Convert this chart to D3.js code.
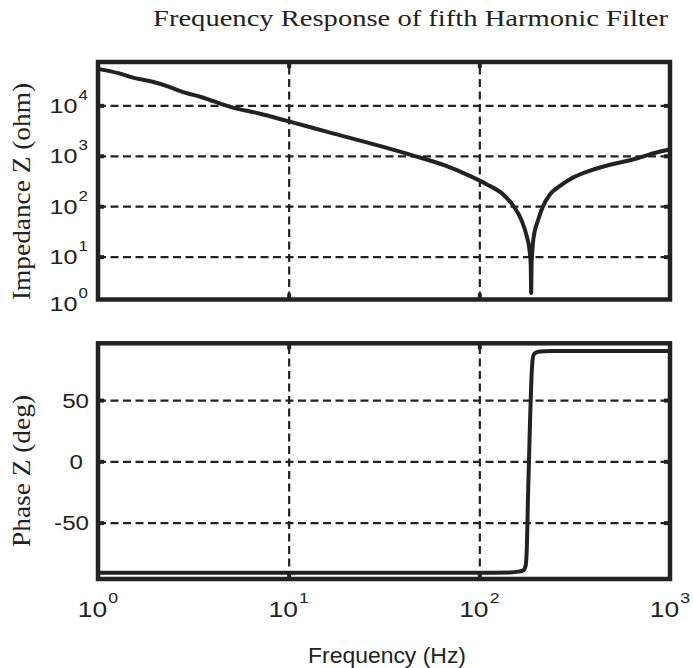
<!DOCTYPE html>
<html><head><meta charset="utf-8">
<script src="https://cdn.jsdelivr.net/npm/d3@7"></script>
<style>body{margin:0;background:#fff}</style>
</head><body><svg id="c" width="693" height="668"></svg>
<script>
// ---- data ----
const freqZ = [1, 1.28, 1.56, 1.91, 2.34, 2.75, 3.5, 5.1, 7, 9.8, 16.5, 30, 45, 67, 89, 109, 133, 151, 167, 177, 183, 186, 187, 188, 190, 192, 204, 215, 235, 265, 299, 365, 447, 546, 668, 785, 900, 1000];
const impedance = [53000, 43500, 34700, 29700, 23600, 18800, 14500, 9040, 6900, 4920, 2880, 1570, 1010, 630, 400, 274, 173, 101, 51, 26, 14, 7, 1.9, 7, 14, 22, 55, 97, 173, 253, 343, 479, 614, 736, 883, 1070, 1230, 1330];
const freqP = [1, 100, 145, 160, 170, 175, 177, 180.6, 184.6, 188.6, 192.6, 200, 209, 235, 1000];
const phase = [-91, -91, -90.6, -90, -89, -85, -75, -20, 34, 75, 87, 89, 89.7, 90, 90];
const xTicks = [1, 10, 100, 1000];
const zTicks = [1, 10, 100, 1000, 10000];
const pTicks = [-50, 0, 50];
const titleText = "Frequency Response of fifth Harmonic Filter";
const xLabel = "Frequency (Hz)";
const zLabel = "Impedance Z (ohm)";
const pLabel = "Phase Z (deg)";

const ink = "#222";
const svg = d3.select("#c");
const X0 = 98, X1 = 670;
const ZT = 62, ZB = 299.5, PT = 343.3, PB = 579;

const x = d3.scaleLog().domain([1, 1000]).range([X0, X1]);
const yZ = d3.scaleLog().domain([Math.pow(10, 0.15), Math.pow(10, 4.86)]).range([ZB, ZT]);
const yP = d3.scaleLinear().domain([-96, 96.3]).range([PB, PT]);

function grid(top, bottom, yScale, yGrid) {
  const g = svg.append("g");
  g.append("g").attr("transform", `translate(${X0},0)`)
    .call(d3.axisLeft(yScale).tickValues(yGrid).tickSize(-(X1 - X0)).tickFormat(""))
    .call(s => s.select(".domain").remove())
    .selectAll("line").attr("stroke", ink).attr("stroke-width", 2.2).attr("stroke-dasharray", "8,4.5");
  g.append("g").attr("transform", `translate(0,${bottom})`)
    .call(d3.axisBottom(x).tickValues([10, 100]).tickSize(-(bottom - top)).tickFormat(""))
    .call(s => s.select(".domain").remove())
    .selectAll("line").attr("stroke", ink).attr("stroke-width", 2.2).attr("stroke-dasharray", "8,4.5");
  const tk = (axis, tr) => g.append("g").attr("transform", tr).call(axis)
    .call(s => s.select(".domain").remove())
    .selectAll("line").attr("stroke", ink).attr("stroke-width", 4);
  tk(d3.axisLeft(yScale).tickValues(yGrid).tickSize(-6).tickFormat(""), `translate(${X0},0)`);
  tk(d3.axisRight(yScale).tickValues(yGrid).tickSize(-6).tickFormat(""), `translate(${X1},0)`);
  tk(d3.axisTop(x).tickValues([10, 100]).tickSize(-6).tickFormat(""), `translate(0,${top})`);
  tk(d3.axisBottom(x).tickValues([10, 100]).tickSize(-6).tickFormat(""), `translate(0,${bottom})`);
}

grid(ZT, ZB, yZ, zTicks.filter(v => v > 1));
grid(PT, PB, yP, pTicks);

const zData = freqZ.map((f, i) => ({f, v: impedance[i]}));
const pData = freqP.map((f, i) => ({f, v: phase[i]}));
svg.append("path").datum(zData)
  .attr("d", d3.line().x(d => x(d.f)).y(d => yZ(d.v)).curve(d3.curveMonotoneX))
  .attr("fill", "none").attr("stroke", ink).attr("stroke-width", 4).attr("stroke-linejoin", "round");
svg.append("path").datum(pData)
  .attr("d", d3.line().x(d => x(d.f)).y(d => yP(d.v)).curve(d3.curveMonotoneX))
  .attr("fill", "none").attr("stroke", ink).attr("stroke-width", 4).attr("stroke-linejoin", "round");

[[ZT, ZB], [PT, PB]].forEach(([t, b]) => {
  svg.append("rect").attr("x", X0).attr("y", t).attr("width", X1 - X0).attr("height", b - t)
    .attr("fill", "none").attr("stroke", ink).attr("stroke-width", 4.5);
});

const sans = "Liberation Sans, Arial, sans-serif";
const serif = "Liberation Serif, Times New Roman, serif";

function powLabel(px, py, v, anchor, fs) {
  const t = svg.append("text")
    .attr("transform", `translate(${px},${py}) scale(1.2,1)`)
    .attr("font-family", sans).attr("font-size", fs).attr("fill", ink)
    .attr("text-anchor", anchor);
  t.append("tspan").text("10");
  t.append("tspan").attr("font-size", fs * 0.67).attr("dy", -fs * 0.62).attr("dx", 1).text(String(Math.round(Math.log10(v))));
}

zTicks.forEach(v => {
  const yy = Math.min(yZ(v), ZB + 4);
  powLabel(88, yy + 7.5, v, "end", 21);
});
pTicks.forEach(v => {
  svg.append("text")
    .attr("transform", `translate(${v === 0 ? 83 : 89},${yP(v) + 7.5}) scale(1.15,1)`)
    .attr("font-family", sans).attr("font-size", 21).attr("fill", ink)
    .attr("text-anchor", "end").text(String(v));
});
xTicks.forEach(v => powLabel(x(v), 617, v, "middle", 22));

svg.append("text").attr("x", 308).attr("y", 663)
  .attr("font-family", sans).attr("font-size", 22).attr("fill", ink)
  .attr("textLength", 158).attr("lengthAdjust", "spacingAndGlyphs").text(xLabel);
svg.append("text").attr("x", 153).attr("y", 26)
  .attr("font-family", serif).attr("font-size", 24).attr("fill", ink)
  .attr("textLength", 515).attr("lengthAdjust", "spacingAndGlyphs").text(titleText);
svg.append("text").attr("transform", `translate(30,${(83 + 300) / 2}) rotate(-90)`)
  .attr("font-family", serif).attr("font-size", 25).attr("fill", ink).attr("text-anchor", "middle")
  .attr("textLength", 217).attr("lengthAdjust", "spacingAndGlyphs").text(zLabel);
svg.append("text").attr("transform", `translate(30,${(395 + 547) / 2}) rotate(-90)`)
  .attr("font-family", serif).attr("font-size", 25).attr("fill", ink).attr("text-anchor", "middle")
  .attr("textLength", 152).attr("lengthAdjust", "spacingAndGlyphs").text(pLabel);
</script>
</body></html>
